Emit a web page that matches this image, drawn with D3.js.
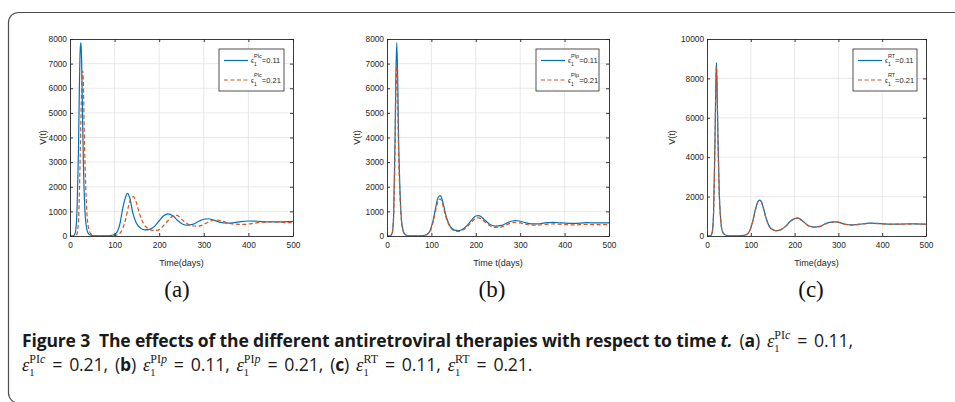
<!DOCTYPE html>
<html><head><meta charset="utf-8">
<script src="https://cdn.jsdelivr.net/npm/d3@7"></script>
<style>body{margin:0;background:#fff}svg{display:block}text{white-space:pre}</style>
</head><body>
<script>
// ---------------- data ----------------
const xTicks = [0, 100, 200, 300, 400, 500];
const yTicksAB = [0, 1000, 2000, 3000, 4000, 5000, 6000, 7000, 8000];
const yTicksC = [0, 2000, 4000, 6000, 8000, 10000];
const seriesNames = ["0.11", "0.21"];
const panelSup = ["PIc", "PIp", "RT"];
const panelTags = ["(a)", "(b)", "(c)"];
const xLabels = ["Time(days)", "Time t(days)", "Time(days)"];
const yLabel = "V(t)";

// (a) PIc
const tA1 = [0,8,12,16,19,21,23,24.5,26,28,30,33,37,42,50,60,80,95,105,112,118,124,129,134,140,148,158,168,178,190,200,210,220,230,242,252,262,275,290,300,310,320,335,355,375,400,420,445,470,500];
const vA1 = [0,10,150,1200,3500,6000,7600,7850,7200,5000,3000,1200,350,80,20,10,10,30,150,500,1100,1550,1730,1550,1000,550,320,250,270,400,620,820,900,830,620,490,440,470,610,680,700,660,560,520,560,610,600,570,570,590];
const tA2 = [0,10,15,19,22,25,27,28.5,30,32,35,38,42,47,55,65,80,100,110,118,125,131,136,142,148,155,165,175,185,195,205,215,225,232,240,248,258,270,284,295,305,315,325,333,342,355,370,390,410,430,450,475,500];
const vA2 = [0,5,60,600,2500,5200,6500,6700,6200,4200,2200,900,300,80,20,5,5,20,80,300,700,1200,1500,1600,1400,950,500,300,230,230,330,530,730,830,840,720,560,430,400,430,520,610,650,640,600,520,480,470,510,560,570,550,540];
// (b) PIp
const tB = [0,8,12,15,18,20,22,24,26,29,32,36,40,46,55,70,85,95,102,108,113,117,120,124,128,134,142,152,162,172,182,192,200,206,212,220,232,245,258,270,280,290,300,312,325,340,355,375,395,420,450,475,500];
const vB1 = [0,10,150,900,3800,6500,7850,6500,4000,2000,800,250,80,20,5,5,30,150,500,1000,1450,1620,1640,1500,1200,750,400,240,220,290,460,680,810,830,780,650,470,400,430,530,600,630,600,540,490,490,530,550,530,510,540,530,530];
const vB2 = [0,8,130,800,3400,5800,6900,5700,3500,1750,700,220,70,15,5,5,25,130,430,900,1300,1480,1500,1380,1100,700,370,210,190,250,400,600,720,740,700,580,420,350,370,460,530,560,530,480,440,440,470,490,470,450,470,460,460];
// (c) RT
const tC = [0,8,12,15,18,20,21.5,23,25,28,31,35,40,46,55,70,85,95,102,108,113,117,121,125,129,135,142,152,160,170,180,190,200,206,212,220,232,245,258,270,280,290,300,312,330,350,370,395,420,450,475,500];
const vC1 = [0,10,200,1200,4500,7500,8800,7600,5000,2200,900,250,80,20,5,5,30,170,550,1100,1550,1780,1820,1700,1400,900,500,300,270,340,500,750,880,920,870,730,520,450,490,620,690,720,700,620,560,600,650,630,600,610,620,600];
const vC2 = [0,9,190,1150,4400,7300,8600,7450,4900,2150,880,240,75,18,5,5,28,160,530,1080,1530,1760,1800,1690,1390,890,495,295,265,335,495,740,870,910,860,720,515,445,485,610,680,710,690,610,555,595,640,620,595,605,610,595];

// ---------------- layout ----------------
const W = 955, H = 402;
const colors = ["#0072BD", "#D95319"];
const panels = [
  {x0:70, x1:293, y0:39, y1:236, ymax:8000, yticks:yTicksAB, ylabX:43, leg:{x:219,y:49,w:65,h:42}, tagX:177, series:[[tA1,vA1],[tA2,vA2]]},
  {x0:387, x1:609, y0:39, y1:236, ymax:8000, yticks:yTicksAB, ylabX:357, leg:{x:536,y:49,w:63,h:42}, tagX:492, series:[[tB,vB1],[tB,vB2]]},
  {x0:707, x1:926, y0:39, y1:236, ymax:10000, yticks:yTicksC, ylabX:672, leg:{x:853,y:49,w:64,h:42}, tagX:811, series:[[tC,vC1],[tC,vC2]]}
];

const svg = d3.select("body").append("svg").attr("width", W).attr("height", H);

// outer frame
svg.append("path")
  .attr("d", "M 960 12.5 H 18.5 A 10 10 0 0 0 8.5 22.5 V 393 A 10 10 0 0 0 18.5 403 H 960")
  .attr("fill", "none").attr("stroke", "#4d4d4d").attr("stroke-width", 1.2);

const sansAx = "'Liberation Sans', Arial, sans-serif";
const fmt = d3.format("d");

panels.forEach((p, pi) => {
  const x = d3.scaleLinear().domain([0, 500]).range([p.x0, p.x1]);
  const y = d3.scaleLinear().domain([0, p.ymax]).range([p.y1, p.y0]);
  const g = svg.append("g");

  // grid
  g.append("g").selectAll("line").data(xTicks.slice(1, -1)).join("line")
    .attr("x1", d => x(d)).attr("x2", d => x(d)).attr("y1", p.y0).attr("y2", p.y1)
    .attr("stroke", "#e3e3e3").attr("stroke-width", 0.8);
  g.append("g").selectAll("line").data(p.yticks.slice(1, -1)).join("line")
    .attr("y1", d => y(d)).attr("y2", d => y(d)).attr("x1", p.x0).attr("x2", p.x1)
    .attr("stroke", "#e3e3e3").attr("stroke-width", 0.8);

  // lines
  const clipId = "clip" + pi;
  svg.append("clipPath").attr("id", clipId).append("rect")
    .attr("x", p.x0).attr("y", p.y0 - 2).attr("width", p.x1 - p.x0).attr("height", p.y1 - p.y0 + 2);
  const line = d3.line().x(d => x(d[0])).y(d => y(d[1])).curve(d3.curveMonotoneX);
  p.series.forEach((s, si) => {
    const pts = s[0].map((t, i) => [t, s[1][i]]);
    g.append("path").datum(pts).attr("d", line)
      .attr("clip-path", `url(#${clipId})`)
      .attr("fill", "none").attr("stroke", colors[si]).attr("stroke-width", 1.2)
      .attr("stroke-dasharray", si === 1 ? "4,2.5" : null);
  });

  // axes (MATLAB style box, ticks inward)
  const ax = d3.axisBottom(x).tickValues(xTicks).tickFormat(fmt).tickSizeInner(-3).tickSizeOuter(0).tickPadding(6);
  const ay = d3.axisLeft(y).tickValues(p.yticks).tickFormat(fmt).tickSizeInner(-3).tickSizeOuter(0).tickPadding(3);
  const axT = d3.axisTop(x).tickValues(xTicks).tickSizeInner(-3).tickSizeOuter(0).tickFormat("");
  const ayR = d3.axisRight(y).tickValues(p.yticks).tickSizeInner(-3).tickSizeOuter(0).tickFormat("");
  const styleAxis = sel => {
    sel.selectAll("path").attr("stroke", "#262626").attr("stroke-width", 0.9);
    sel.selectAll("line").attr("stroke", "#262626").attr("stroke-width", 0.9);
    sel.selectAll("text").attr("fill", "#262626").attr("font-family", sansAx).attr("font-size", 8.3);
  };
  g.append("g").attr("transform", `translate(0,${p.y1})`).call(ax).call(styleAxis);
  g.append("g").attr("transform", `translate(${p.x0},0)`).call(ay).call(styleAxis);
  g.append("g").attr("transform", `translate(0,${p.y0})`).call(axT).call(styleAxis);
  g.append("g").attr("transform", `translate(${p.x1},0)`).call(ayR).call(styleAxis);

  // axis labels
  g.append("text").attr("x", (p.x0 + p.x1) / 2).attr("y", 266).attr("text-anchor", "middle")
    .attr("font-family", sansAx).attr("font-size", 9).attr("fill", "#262626").text(xLabels[pi]);
  g.append("text").attr("transform", `translate(${p.ylabX},${(p.y0 + p.y1) / 2}) rotate(-90)`)
    .attr("text-anchor", "middle").attr("dy", "0.35em")
    .attr("font-family", sansAx).attr("font-size", 9).attr("fill", "#262626").text(yLabel);

  // legend
  const L = p.leg;
  const lg = g.append("g");
  lg.append("rect").attr("x", L.x).attr("y", L.y).attr("width", L.w).attr("height", L.h)
    .attr("fill", "#fff").attr("stroke", "#262626").attr("stroke-width", 0.8);
  seriesNames.forEach((nm, si) => {
    const yy = L.y + 11.5 + si * 19.5;
    lg.append("line").attr("x1", L.x + 5).attr("x2", L.x + 29).attr("y1", yy).attr("y2", yy)
      .attr("stroke", colors[si]).attr("stroke-width", 1.2)
      .attr("stroke-dasharray", si === 1 ? "4,2.5" : null);
    let cx = L.x + 32;
    const t1 = lg.append("text").attr("x", cx).attr("y", yy + 2.5).attr("font-family", sansAx)
      .attr("font-size", 6.5).attr("fill", "#262626").text("ϵ");
    cx += t1.node().getComputedTextLength();
    lg.append("text").attr("x", cx).attr("y", yy + 5.5).attr("font-family", sansAx)
      .attr("font-size", 5).attr("fill", "#262626").text("1");
    const t3 = lg.append("text").attr("x", cx).attr("y", yy - 3).attr("font-family", sansAx)
      .attr("font-size", 5.5).attr("fill", "#262626").text(panelSup[pi]);
    cx += t3.node().getComputedTextLength();
    lg.append("text").attr("x", cx).attr("y", yy + 2.8).attr("font-family", sansAx)
      .attr("font-size", 7.5).attr("fill", "#262626").text("=" + nm);
  });

  // sub-figure tag
  g.append("text").attr("x", p.tagX).attr("y", 297).attr("text-anchor", "middle")
    .attr("font-family", "'Liberation Serif', 'Times New Roman', serif").attr("font-size", 23)
    .attr("fill", "#111").text(panelTags[pi]);
});

// ---------------- caption ----------------
const capSans = "'Open Sans', 'Noto Sans', sans-serif";
const capSerif = "'Liberation Serif', serif";
function build(g, x0, yb, runs, kb, kr, ws) {
  g.selectAll("*").remove();
  let cx = x0;
  runs.forEach(r => {
    const fs = r.font ? r.size : 15 * (r.bold ? kb : kr);
    const t = g.append("text").attr("x", cx).attr("y", yb + (r.dy || 0))
      .attr("font-family", r.font || capSans).attr("font-size", fs)
      .attr("font-weight", r.bold ? 700 : 400).attr("font-style", r.italic ? "italic" : "normal")
      .attr("letter-spacing", r.font ? 0 : -0.15)
      .attr("word-spacing", r.font || r.bold ? 0 : ws)
      .attr("fill", "#1a1a1a").text(r.t);
    const w = t.node().getComputedTextLength();
    if (!r.stack) cx += w;
  });
  return cx;
}
function eps(sup) {
  const s = 12, dyS = -8.5;
  const supRuns = sup === "PIc" ? [{t:"PI", font:capSerif, size:s, dy:dyS}, {t:"c", font:capSerif, italic:true, size:s, dy:dyS}]
    : sup === "PIp" ? [{t:"PI", font:capSerif, size:s, dy:dyS}, {t:"p", font:capSerif, italic:true, size:s, dy:dyS}]
    : [{t:"RT", font:capSerif, size:s, dy:dyS}];
  return [{t:"ε", font:capSerif, italic:true, size:18.5}, {t:"1", font:capSerif, size:10.5, dy:5, stack:true}].concat(supRuns);
}
const reg = t => ({t});
const line1 = [
  {t:"Figure 3  The effects of the different antiretroviral therapies with respect to time ", bold:true},
  {t:"t.", bold:true, italic:true},
  reg(" ("), {t:"a", bold:true}, reg(") ")
].concat(eps("PIc"), [reg(" = 0.11,")]);
const line2 = [].concat(
  eps("PIc"), [reg(" = 0.21, ("), {t:"b", bold:true}, reg(") ")],
  eps("PIp"), [reg(" = 0.11, ")],
  eps("PIp"), [reg(" = 0.21, ("), {t:"c", bold:true}, reg(") ")],
  eps("RT"), [reg(" = 0.11, ")],
  eps("RT"), [reg(" = 0.21.")]
);
const g1 = svg.append("g"), g2 = svg.append("g");
let kb = 1, kr = 1, ws = 0;
const spaces2 = line2.filter(r => !r.font && !r.bold).reduce((a, r) => a + (r.t.match(/ /g) || []).length, 0);
for (let i = 0; i < 5; i++) {
  const e2 = build(g2, 22, 371, line2, kb, kr, 0);
  const krFit = kr * (568 - 22) / (e2 - 22);
  kr = Math.max(0.9, Math.min(1.18, krFit));
  const e2b = build(g2, 22, 371, line2, kb, kr, 0);
  ws = Math.max(0, Math.min(2.5, (568 - e2b) / spaces2));
  const e1 = build(g1, 22, 347, line1, kb, kr, ws);
  kb = Math.max(0.85, Math.min(1.25, kb * (853 - 22) / (e1 - 22)));
}
build(g1, 22, 347, line1, kb, kr, ws);
build(g2, 22, 371, line2, kb, kr, ws);
</script>
</body></html>
